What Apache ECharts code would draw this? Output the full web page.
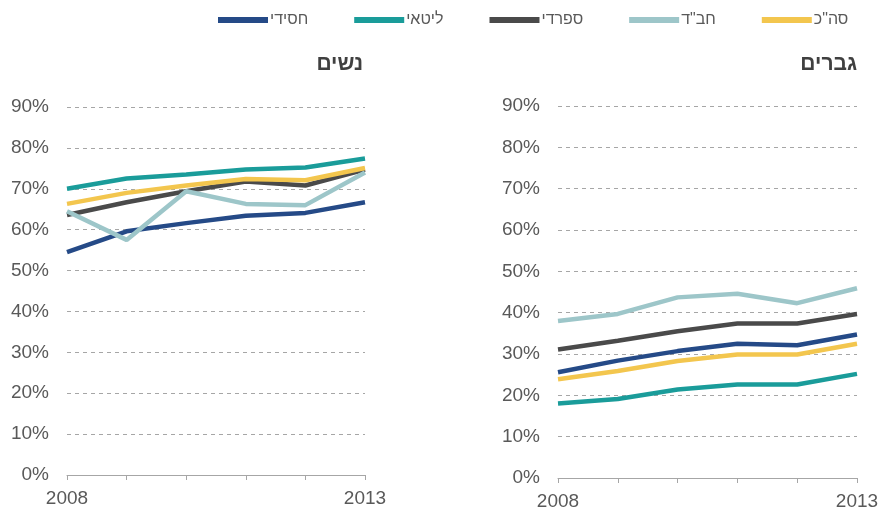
<!DOCTYPE html>
<html>
<head>
<meta charset="utf-8">
<script src="https://cdn.jsdelivr.net/npm/echarts@6/dist/echarts.min.js"></script>
<style>
  html, body { margin: 0; padding: 0; background: #fff; }
  #chart { width: 882px; height: 511px; }
</style>
</head>
<body>
<div id="chart"></div>
<script>
// שנים
const years = ["2008", "2009", "2010", "2011", "2012", "2013"];
const xTickLabels = ["2008", "", "", "", "", "2013"];
const yTicks = [0, 10, 20, 30, 40, 50, 60, 70, 80, 90];

const groupNames = ["חסידי", "ליטאי", "ספרדי", 'חב"ד', 'סה"כ'];
const groupColors = ["#254a87", "#1a9c9a", "#4a4a4a", "#9dc6c9", "#f3c64e"];

// נשים
const womenHasidi = [54.5, 59.6, 61.6, 63.4, 64.1, 66.7];
const womenLitai = [70.0, 72.5, 73.5, 74.7, 75.2, 77.4];
const womenSfaradi = [63.6, 66.7, 69.4, 71.8, 70.8, 74.7];
const womenChabad = [64.5, 57.5, 69.4, 66.3, 66.0, 74.0];
const womenTotal = [66.3, 69.0, 70.8, 72.4, 72.1, 75.1];

// גברים
const menHasidi = [25.6, 28.4, 30.7, 32.5, 32.1, 34.7];
const menLitai = [18.0, 19.1, 21.4, 22.6, 22.6, 25.2];
const menSfaradi = [31.1, 33.2, 35.5, 37.4, 37.4, 39.7];
const menChabad = [38.0, 39.7, 43.7, 44.6, 42.3, 45.9];
const menTotal = [23.9, 25.9, 28.3, 29.9, 29.9, 32.5];

const womenData = [womenHasidi, womenLitai, womenSfaradi, womenChabad, womenTotal];
const menData = [menHasidi, menLitai, menSfaradi, menChabad, menTotal];

const font = "'Liberation Sans', Arial, sans-serif";
const labelColor = "#595959";

function makeX(gridIndex) {
  return {
    type: "category",
    gridIndex: gridIndex,
    data: years,
    boundaryGap: false,
    axisLine: { lineStyle: { color: "#a6a6a6", width: 1 } },
    axisTick: { show: true, interval: 0, length: 5, lineStyle: { color: "#a6a6a6" } },
    axisLabel: {
      interval: 0,
      margin: 14,
      fontFamily: font,
      fontSize: 19,
      color: labelColor,
      formatter: (v, i) => xTickLabels[i],
    },
    splitLine: { show: false },
  };
}

function makeY(gridIndex) {
  return {
    type: "value",
    gridIndex: gridIndex,
    min: yTicks[0],
    max: yTicks[yTicks.length - 1],
    interval: 10,
    axisLine: { show: false },
    axisTick: { show: false },
    axisLabel: {
      margin: 18,
      fontFamily: font,
      fontSize: 19,
      color: labelColor,
      formatter: "{value}%",
    },
    splitLine: {
      show: true,
      lineStyle: { color: "#a6a6a6", type: [4, 4], width: 1 },
    },
  };
}

const series = [];
[womenData, menData].forEach((data, g) => {
  groupNames.forEach((name, i) => {
    series.push({
      name: name,
      type: "line",
      xAxisIndex: g,
      yAxisIndex: g,
      data: data[i],
      showSymbol: false,
      symbol: "none",
      lineStyle: { width: 4.5, color: groupColors[i] },
      itemStyle: { color: groupColors[i] },
      z: 2 + i,
    });
  });
});

const option = {
  animation: false,
  backgroundColor: "#fff",
  textStyle: { fontFamily: font },
  title: [
    {
      text: "נשים",
      right: 882 - 363,
      top: 54,
      padding: 0,
      textStyle: { fontFamily: font, fontSize: 21, fontWeight: "bold", color: "#404040" },
    },
    {
      text: "גברים",
      right: 882 - 857,
      top: 54,
      padding: 0,
      textStyle: { fontFamily: font, fontSize: 21, fontWeight: "bold", color: "#404040" },
    },
  ],
  legend: {
    data: groupNames,
    left: 218,
    top: 12,
    padding: 0,
    icon: "rect",
    itemWidth: 50,
    itemHeight: 6,
    itemGap: 46,
    textStyle: { fontFamily: font, fontSize: 16, color: labelColor, padding: [0, 0, 0, -3] },
  },
  grid: [
    { left: 67, right: 882 - 365, top: 107, bottom: 511 - 475 },
    { left: 558, right: 882 - 857, top: 106, bottom: 511 - 478 },
  ],
  xAxis: [makeX(0), makeX(1)],
  yAxis: [makeY(0), makeY(1)],
  series: series,
};

echarts.init(document.getElementById("chart")).setOption(option);
</script>
</body>
</html>
